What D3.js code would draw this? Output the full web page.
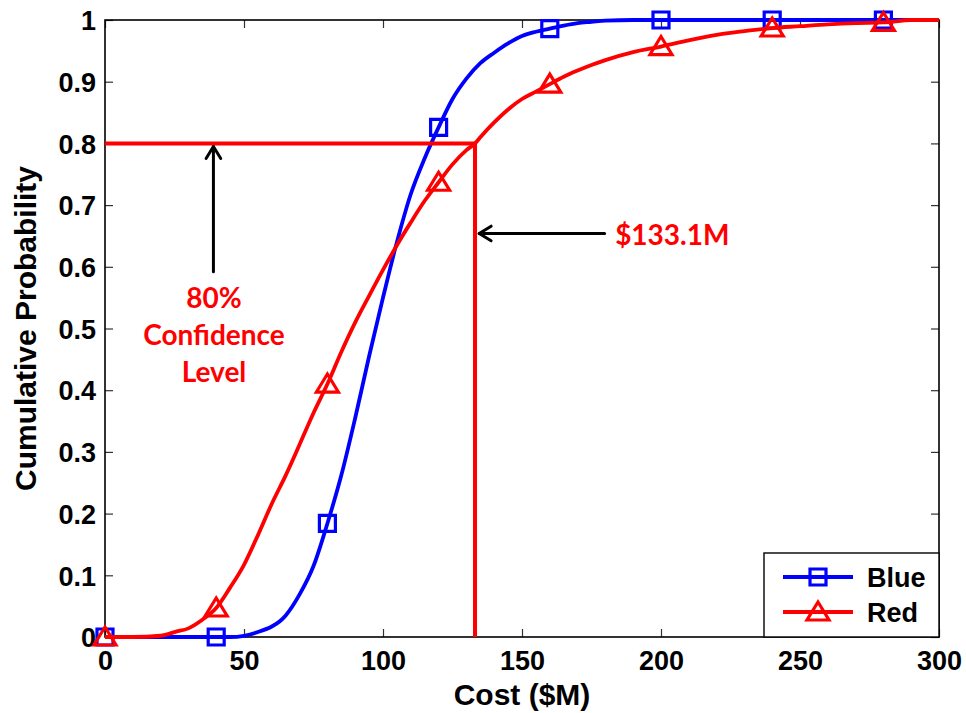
<!DOCTYPE html>
<html>
<head>
<meta charset="utf-8">
<script src="https://cdn.jsdelivr.net/npm/d3@7/dist/d3.min.js"></script>
<style>
  html, body { margin: 0; padding: 0; background: #fff; }
  svg { display: block; }
</style>
</head>
<body>
<svg id="chart" width="966" height="713"></svg>
<script>
// Cost values ($M) at which each empirical CDF is sampled
const blueCost = [0, 10, 20, 30, 40, 45, 50, 55, 60, 63, 65, 70, 75, 80, 85, 90, 95, 100, 105, 110, 115, 120,
  125, 130, 135, 140, 145, 150, 155, 160, 165, 170, 175, 180, 190, 200, 240, 280, 300];
const blueProb = [0, 0, 0, 0, 0, 0, 0.002, 0.008, 0.017, 0.026, 0.035, 0.069, 0.115, 0.184, 0.262, 0.355, 0.455, 0.55, 0.64, 0.718, 0.776, 0.826,
  0.872, 0.905, 0.93, 0.947, 0.962, 0.974, 0.981, 0.986, 0.991, 0.995, 0.997, 0.999, 1, 1, 1, 1, 1];

const redCost = [0, 10, 20, 23, 25, 30, 35, 40, 45, 50, 55, 60, 65, 70, 75, 80, 85, 90, 95, 100, 105, 110, 115, 120,
  125, 130, 133.1, 135, 140, 145, 150, 155, 160, 165, 170, 175, 180, 190, 200, 210, 220, 230, 240, 250, 260, 270, 280, 290, 300];
const redProb = [0, 0, 0.002, 0.005, 0.008, 0.014, 0.028, 0.047, 0.08, 0.117, 0.165, 0.216, 0.262, 0.312, 0.363, 0.41, 0.462, 0.51, 0.553, 0.595, 0.635, 0.672, 0.707, 0.737,
  0.766, 0.789, 0.8, 0.81, 0.834, 0.855, 0.872, 0.884, 0.896, 0.908, 0.918, 0.927, 0.935, 0.948, 0.957, 0.967, 0.976, 0.982, 0.987, 0.99, 0.993, 0.995, 0.996, 1, 1];

// Costs that carry a marker on each curve
const markerCost = [0, 40, 80, 120, 160, 200, 240, 280];

// Axis ticks
const xTicks = [0, 50, 100, 150, 200, 250, 300];
const yTicks = [0, 0.1, 0.2, 0.3, 0.4, 0.5, 0.6, 0.7, 0.8, 0.9, 1];
const yTickLabels = ["0", "0.1", "0.2", "0.3", "0.4", "0.5", "0.6", "0.7", "0.8", "0.9", "1"];

// 80th percentile of the red distribution
const confLevel = 0.8;
const confCost = 133.1;

// Series names for the legend
const seriesNames = ["Blue", "Red"];

const BLUE = "#0000ff", RED = "#ff0000";
const tickFont = "'Liberation Sans', Arial, Helvetica, sans-serif";
const noteFont = "Lato, 'Open Sans', sans-serif";

const svg = d3.select("#chart");
const x = d3.scaleLinear().domain([0, 300]).range([105, 939]);
const y = d3.scaleLinear().domain([0, 1]).range([637, 20]);

const blue = blueCost.map((c, i) => ({ c, p: blueProb[i] }));
const red = redCost.map((c, i) => ({ c, p: redProb[i] }));

// Axes: inward ticks on all four sides
const gx = svg.append("g").attr("transform", `translate(0,${y(0)})`)
  .call(d3.axisBottom(x).tickValues(xTicks).tickSize(-8).tickFormat(d3.format("d")));
gx.selectAll("text").attr("y", 33).attr("dy", null);

const gy = svg.append("g").attr("transform", `translate(${x(0)},0)`)
  .call(d3.axisLeft(y).tickValues(yTicks).tickSize(-8).tickFormat((d, i) => yTickLabels[i]));
gy.selectAll("text").attr("x", -9).attr("dy", "0.36em");

svg.append("g").attr("transform", `translate(0,${y(1)})`)
  .call(d3.axisTop(x).tickValues(xTicks).tickSize(-8).tickFormat(""));
svg.append("g").attr("transform", `translate(${x(300)},0)`)
  .call(d3.axisRight(y).tickValues(yTicks).tickSize(-8).tickFormat(""));

svg.selectAll(".domain").remove();
svg.selectAll(".tick line").attr("stroke", "#333").attr("stroke-width", 1.2);
svg.selectAll(".tick text")
  .attr("font-family", tickFont).attr("font-weight", "bold").attr("font-size", 27).attr("fill", "#000");

// Axes box
svg.append("rect")
  .attr("x", x(0)).attr("y", y(1))
  .attr("width", x(300) - x(0)).attr("height", y(0) - y(1))
  .attr("fill", "none").attr("stroke", "#000").attr("stroke-width", 1.6);

// Axis titles
svg.append("text")
  .attr("x", (x(0) + x(300)) / 2).attr("y", 705)
  .attr("text-anchor", "middle")
  .attr("font-family", tickFont).attr("font-weight", "bold").attr("font-size", 30)
  .text("Cost ($M)");
svg.append("text")
  .attr("transform", `translate(36,${(y(0) + y(1)) / 2}) rotate(-90)`)
  .attr("text-anchor", "middle")
  .attr("font-family", tickFont).attr("font-weight", "bold").attr("font-size", 30)
  .text("Cumulative Probability");

// Curves
const line = d3.line().x(d => x(d.c)).y(d => y(d.p)).curve(d3.curveMonotoneX);

function drawSeries(data, color, shape) {
  svg.append("path").datum(data)
    .attr("d", line)
    .attr("fill", "none").attr("stroke", color).attr("stroke-width", 3.8)
    .attr("stroke-linejoin", "round");
  const pts = data.filter(d => markerCost.includes(d.c));
  svg.append("g").selectAll("path").data(pts).join("path")
    .attr("transform", d => `translate(${x(d.c)},${y(d.p)})`)
    .attr("d", shape)
    .attr("fill", "none").attr("stroke", color).attr("stroke-width", 3.2)
    .attr("stroke-linejoin", "miter");
}

const squarePath = "M-8,-8H8V8H-8Z";
const trianglePath = "M0,-10L11,8H-11Z";

drawSeries(blue, BLUE, squarePath);
drawSeries(red, RED, trianglePath);

// 80% confidence guide lines
svg.append("path")
  .attr("d", `M${x(0)},${y(confLevel)}H${x(confCost)}V${y(0)}`)
  .attr("fill", "none").attr("stroke", RED).attr("stroke-width", 4);

// Annotation arrows (open chevron heads)
function arrow(x1, y1, x2, y2) {
  const ang = Math.atan2(y2 - y1, x2 - x1);
  const len = 14, spread = 0.55;
  const a1 = ang + Math.PI - spread, a2 = ang + Math.PI + spread;
  const g = svg.append("g").attr("stroke", "#000").attr("stroke-width", 3).attr("fill", "none")
    .attr("stroke-linecap", "round").attr("stroke-linejoin", "round");
  g.append("path").attr("d", `M${x1},${y1}L${x2},${y2}`);
  g.append("path").attr("d",
    `M${x2 + len * Math.cos(a1)},${y2 + len * Math.sin(a1)}L${x2},${y2}L${x2 + len * Math.cos(a2)},${y2 + len * Math.sin(a2)}`);
}
arrow(x(39), y(0.592), x(39), y(0.795));
arrow(x(179.7), y(0.654), x(134.6), y(0.654));

// Annotation labels
svg.append("text")
  .attr("x", x(183.5)).attr("y", 245)
  .attr("font-family", noteFont).attr("font-weight", "bold").attr("font-size", 28).attr("fill", RED)
  .text("$" + confCost.toFixed(1) + "M");

const conf = svg.append("text")
  .attr("text-anchor", "middle")
  .attr("font-family", noteFont).attr("font-weight", "bold").attr("font-size", 28).attr("fill", RED);
["80%", "Confidence", "Level"].forEach((t, i) => {
  conf.append("tspan").attr("x", x(39.2)).attr("y", 308 + i * 37).text(t);
});

// Legend
const lg = svg.append("g");
lg.append("rect").attr("x", 764).attr("y", 553).attr("width", 175).attr("height", 84)
  .attr("fill", "#fff").attr("stroke", "#000").attr("stroke-width", 1.4);
[[BLUE, squarePath, 577], [RED, trianglePath, 612]].forEach(([col, shp, ly], i) => {
  lg.append("line").attr("x1", 783).attr("x2", 853).attr("y1", ly).attr("y2", ly)
    .attr("stroke", col).attr("stroke-width", 4);
  lg.append("path").attr("transform", `translate(818,${ly})`).attr("d", shp)
    .attr("fill", "none").attr("stroke", col).attr("stroke-width", 3.2);
  lg.append("text").attr("x", 867).attr("y", ly + 10)
    .attr("font-family", tickFont).attr("font-weight", "bold").attr("font-size", 27)
    .text(seriesNames[i]);
});
</script>
</body>
</html>
